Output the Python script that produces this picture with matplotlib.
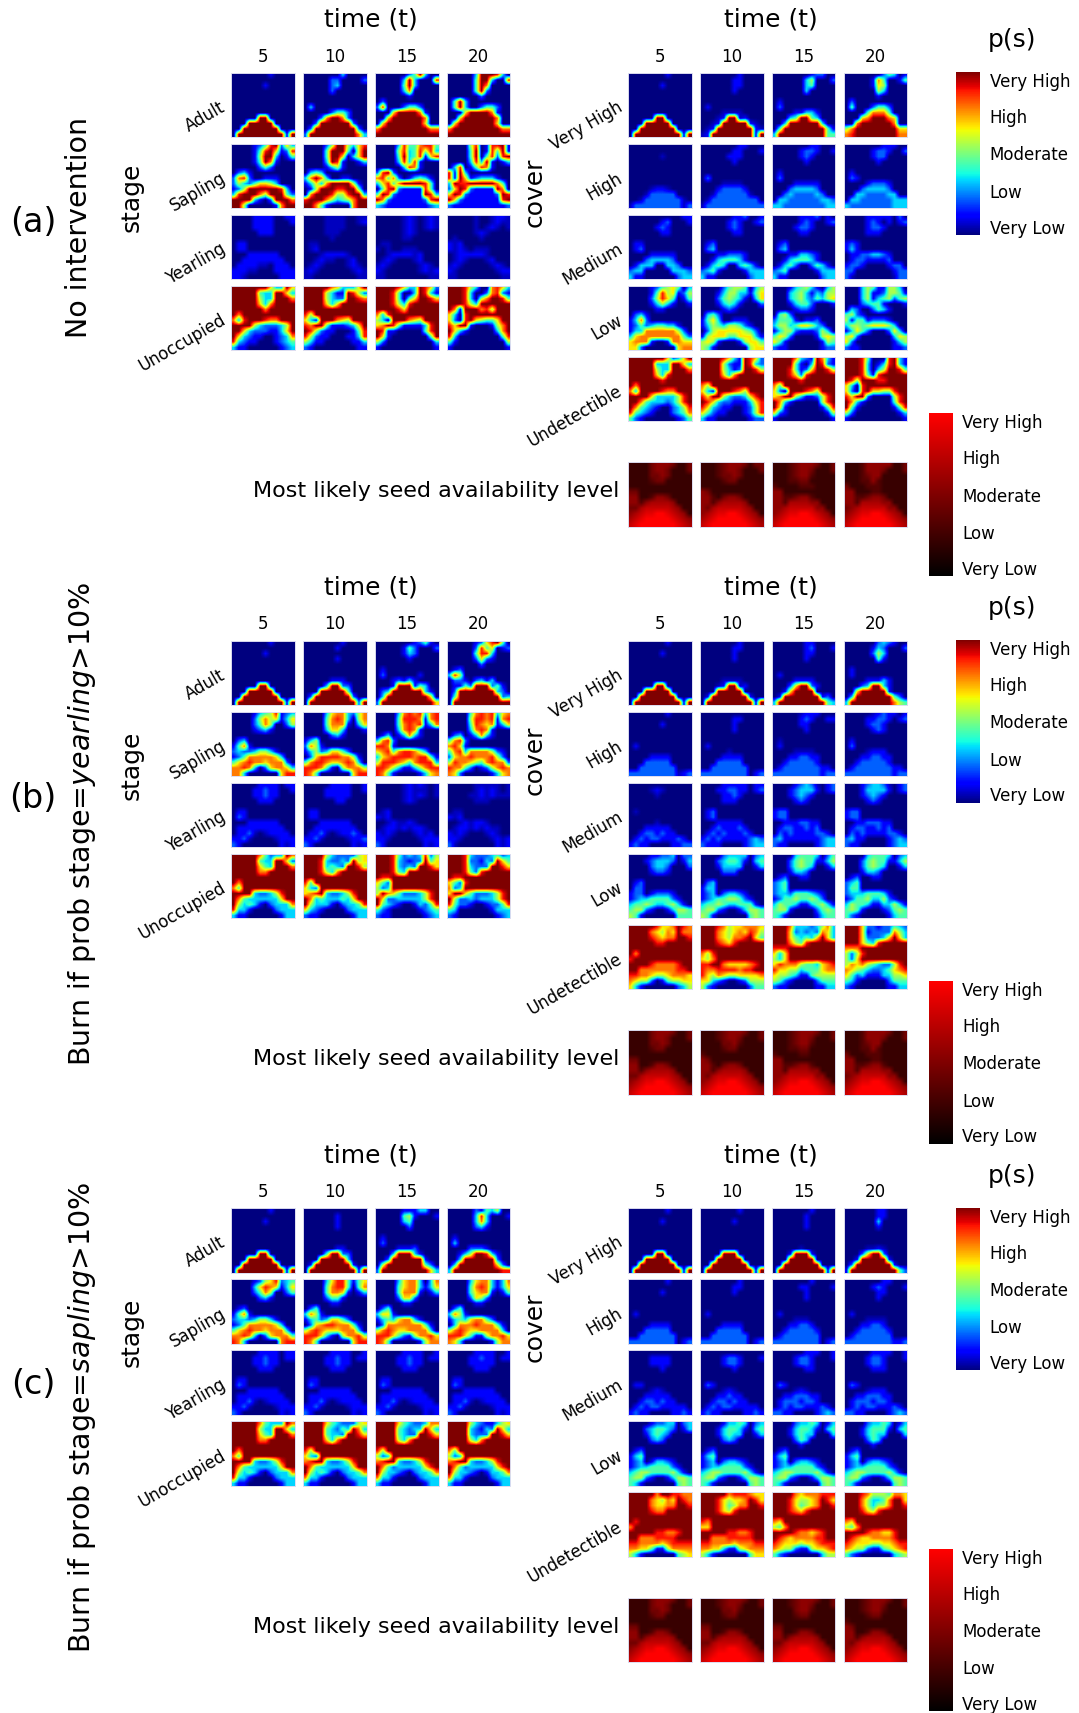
"""Grid of occupancy maps for three burn scenarios, read off the figure on a 12x12 grid.

Cells: 0-9 is the level in ninths, a-i are the half steps (a=0.5, b=1.5, ...).
One row of text holds the same map row for t=5, 10, 15, 20.
"""
import matplotlib
matplotlib.use("Agg")
import matplotlib.pyplot as plt
import numpy as np
from matplotlib.cm import ScalarMappable
from matplotlib.colors import LinearSegmentedColormap, Normalize

TIMES = [5, 10, 15, 20]
STAGES = ["Adult", "Sapling", "Yearling", "Unoccupied"]
COVERS = ["Very High", "High", "Medium", "Low", "Undetectible"]
LEVELS = ["Very Low", "Low", "Moderate", "High", "Very High"]
LEVEL_POS = [0.05, 0.27, 0.5, 0.73, 0.95]

# ---------------- (a) no intervention ----------------
A_ADULT = """
000000010000 000000030000 000000249300 000003999830
000000000000 000002200002 000003930008 000004993008
000000100000 000002300000 000004930000 000004970000
000000000000 000002000000 000003700000 000004920000
000000000000 000000000000 000000100000 000000200000
000000000000 000000000000 020000000000 049300000000
000000000000 030000000000 280002442000 049300244200
000000000000 000002442000 000699997100 000699997100
000009900000 000279972000 006999999700 006999999700
000999990000 002999999200 069999999600 069999999600
009999999000 029999999920 799999999977 799999999977
099999999919 299999999973 999999999999 999999999999
"""
A_SAPLING = """
000012489263 000025995368 000038447884 000058018891
000014896128 000049994069 000058348583 000049018491
000015993014 000049960369 000049348168 000049048289
000014971000 000039810013 000038381000 000038391013
000002420000 000013510000 000003871000 038014871000
023100000000 034300000000 289200000000 819300000000
278200111000 379730011000 784720134310 819612333100
253246653000 136379999510 368479999840 398899999740
125999999830 015999889940 048921111840 269821111970
389997599942 079998558993 498211111983 698211111298
999931029997 899975345799 972111111289 962111111189
995000001799 997410000799 321111111123 211111111112
"""
A_YEARLING = """
000011110011 0000aaaa00aa 00000a1a0a1a 00000a00a11a
000011110001 0000aaaa00a1 00000a1a0a1a 00000a00a1aa
000011110000 0000aaaa0000 00000a1a0a1a 00000a0a1a0a
000001110000 0000aaa00000 00000a1a0000 00000a1a0000
000000000000 00000a000000 00000aa00000 0a0000a00000
011000000000 0aa000000000 0aa000000000 1a1000000000
011000000000 0a1000000000 a0a00aaa0000 1a1a0aaa0000
000111111000 000a1111a000 00a1111a1000 0a11111a0000
001111111100 00a1aa00a100 0a1a000a1000 0a1a000a1000
01111aa01110 0a1a0000a1a0 a1a00000a1a0 a1a00000a1a0
111aa0001111 a1a000000a1a 1a000000a1a1 1a0000000a11
11a000000111 aa00000000aa aa00000000aa aa00000000aa
"""
A_UNOCCUPIED = """
999999963396 999997633369 999986339862 999853007863
999994339963 999953119852 999840039831 999830027821
999995339997 999953229987 999840469986 999830579984
999996379999 999963699999 999853899999 999853999999
999999799999 999999999999 999986999999 971999785999
979999999999 859999999999 738999999999 630899999999
738999877999 631999765999 530999765999 620896544699
999953222359 879941112369 679841111389 869910001579
996322211369 985211000148 981100000489 963100000379
963211001237 852110001138 961000000049 830000000048
832110001234 531100000113 520000000003 410000000005
311000000123 210000000011 100000000001 100000000001
"""
A_VHIGH = """
000000010000 000000010000 000000012200 000000024301
000000000000 000000110000 000000350002 000001740014
000000100000 000000110000 000000340000 000001650000
000000000000 000000100000 000000300000 000000530000
000000000000 000000000000 000000000000 000000100000
000000000000 000000000000 010000000000 020000000000
000000000000 010000000000 020000000000 040002442000
000000000000 0000aaaa0000 000011331000 000047774000
000009900000 000a199a1000 000349943000 000679997600
000999990000 00a1999991a0 003999999300 007999999700
009999999000 0a199999991a 049999999941 579999999966
099999999919 a19999999919 399999999944 789999999977
"""
A_HIGH = """
000000000000 000000011000 000000011000 000000011100
000000000000 000000110001 000001221001 000001221002
000000a00000 000001110000 000001210000 000001220000
000000000000 000000100000 000000100000 000000100000
000000000000 000000000000 000000000000 000000000000
000000000000 000000000000 010000000000 010000000000
000000000000 020000000000 020000000000 021000000000
000000000000 0000aaaa0000 000011111000 000012221000
0000a11a0000 000122221000 000233332000 000233332000
000a22222000 00a222222a00 002322223200 003322223300
00a2222222a0 0a2222222220 033222222332 033222222333
a222222222a2 a22222222222 332222222233 322222222333
"""
A_MEDIUM = """
000000000011 000000112001 000001112010 000011111020
000000120001 000001210012 000001210012 000012101012
000001210000 000001210000 000012210000 000012210000
000000110000 000000110000 000001100000 000011100000
000000000000 000000000000 000000000000 000000000000
011000000000 012000000000 012000000000 121000000000
012000000000 023000000000 023000000000 131000000000
000011111000 000112221000 000113321000 011223321000
000233332000 001344431000 001344431000 012211112000
013330033200 013430034310 013420024310 122100001220
233000003332 234100001333 234000001333 220000000122
311000000233 311000000233 311000000233 2a0000000a22
"""
A_LOW = """
000012456403 000024554035 000134531035 000354115530
000014856125 000135533146 000345313255 000351125541
000025864014 000245431036 000345324356 000351345245
000013531001 000134310002 000134420001 000234410001
000001100000 000012100000 000012210000 032002431000
023100000000 034200000000 045200000000 452100000000
137200000000 146300111000 244410112000 514412221000
124234433100 135435542100 355346653200 355456665300
133777777520 025666665420 135521112530 136420002630
367777777742 156664466631 465200001565 562000000365
677710017766 565100015664 641000000154 620000000135
662000000677 541000000566 211000000122 211000000112
"""
A_UNDET = """
999999962369 999986319862 999973219731 999840008931
999993339963 999952119832 999941039821 999830138931
999995339997 999953129985 999841269985 999830359984
999996389999 999963799999 999862899999 999841899999
999999899999 999999999999 999998999999 985999889999
979999999999 759999999999 749999999999 630899999999
739999877999 631999875999 620999875999 620896655899
999963333589 869953223689 679953112589 869920000589
997433323589 986322111368 973100000589 973100000489
974321002358 863211001258 961000000148 941000000148
843210002347 642110001258 621000000015 520000000013
421000000124 311000000122 100000000001 100000000001
"""
A_SEED = """
222245554224 222345554244 222345554224 222355555224
222245542224 222345542224 222345542224 222355542224
222244542222 222344542222 222345532222 222345522222
222234422222 222234422222 222334422222 222335322222
222222222222 222222222222 322223332222 422233322222
442222222222 542222222222 552222222222 552223322222
552235542222 553245542222 553345532222 553345542222
553566665222 553566665222 553666655222 553666655222
446777776522 546777776522 556777775522 456777775522
567889987652 567889987652 567889987652 567889987652
678999998765 678999998765 678999998765 678999998765
789999999876 789999999876 789999999876 789999999876
"""

# ---------------- (b) burn if yearling > 10% ----------------
B_ADULT = """
000000010000 000000010000 000000012410 000001268940
000000000000 000000100000 000001420002 000002846012
000000100000 000000000000 000001320000 000004883000
000000000000 000000100000 000000100000 000002621000
000000000000 000000000000 000000000000 000000200000
000000000000 000000000000 010000000000 012000000000
000000000000 000000000000 020000001000 385000000000
000000000000 000001110000 000121310000 022102313000
000009900000 000039922000 000199914300 011429992410
000999990000 000999994000 023999999310 029999999320
009999999000 029999999200 039999999960 049999999923
099999999919 099999999929 299999999996 099999999999
"""
B_SAPLING = """
000013458123 000036773257 000037878378 000047878367
000025756136 000047873057 000048887178 000058878178
000024750025 000047771036 000047878137 000048767136
000012310000 000036630001 000037871000 000037871000
000000000000 000002310000 013013731000 023013731000
023000000000 135000000000 378200000000 478200000000
147100000000 275100000000 887100000000 786100000000
232235531000 135236642000 678478875300 478377775210
124777776300 026888877510 367888878841 267787778520
467877677720 478876678730 588876478883 587765478772
778730267763 888741057775 887531135788 877420125787
773000000688 874000000688 874100001367 762000001367
"""
B_YEARLING = """
000001111011 000001111001 00000a1a1a0a 00000aaaaa0a
000011211001 000011111001 00000a1aaa0a 00000a1a1a0a
000011211000 000011111000 00000a1a1a0a 0000aa1a1aaa
000001110000 000000110000 00000a1a0000 00000aaa0000
000000000000 000000000000 000000000000 000000000000
011000000000 011000000000 0a1000000000 0aa000000000
021000000000 011000000000 1a1000000000 1a1000000000
000111111000 000111111000 00a1aa1a0000 00a1a11a0000
011111111100 001111111100 0a11a1a11a00 0a11a1a1aa00
0112a0a11110 0112a0a11210 1a1a000a1a10 1a1a000a1a00
112a0000a111 112a0000a112 11a00000a111 11a00000a1a1
2100000001a1 2100000001a1 2100000001a1 2a00000001a1
"""
B_UNOCCUPIED = """
999997423397 999953222256 999842323825 999832223423
999994339962 999832232956 999832122946 999822132964
999996439997 999834329985 999832329986 999832229986
999997799999 999853799999 999843999999 999842899999
999999999999 999999999999 988999999999 988999999999
979999999999 849999999999 642999999999 642899999999
749999999999 632999999999 523999999999 723999999999
999932235899 678932235899 597642223589 699642223589
974333333699 973433343699 962233333589 952232333589
953431023337 953331023348 943210013248 842210012248
833100002333 632100002333 421000001234 430000001333
311000000133 211000000133 211000000123 210000000123
"""
B_VHIGH = """
000000010000 000000010000 000000110000 000000232100
000000000000 000000110000 000000120001 000001320002
000000100000 000000100000 000000110000 000002530000
000000000000 000000100000 000000100000 000000410000
000000000000 000000000000 000000000000 000000000000
000000000000 000000000000 000000000000 010000000000
000000000000 000000000000 010000000000 010000000000
000000000000 0000aaaa0000 000011110000 000011131000
000009900000 000a199a1000 000269921000 000239931000
000999990000 000999990000 001699990000 006999991000
009999999000 019999999100 019999999120 039999999420
099999999919 099999999919 399999999943 399999999754
"""
B_HIGH = """
000000010000 000000000000 00000a111000 00000a121101
000000000000 000000110000 000001210011 000011221012
000000100000 000000100000 000001100000 000012210000
000000000000 000000100000 000000100000 000001210000
000000000000 000000000000 000000000000 000000000000
000000000000 000000000000 0a0000000000 010000000000
010000000000 010000000000 010000000000 020000000000
000000000000 00000a000000 0000aaaa0000 0000a1110000
000011110000 000011110000 000112211000 000112211000
000222220000 000222220000 001222221000 001222221000
002222222000 002222222000 012222222110 012222222110
222222222a12 222222222012 222222222122 222222222122
"""
B_MEDIUM = """
000000000000 000011111011 00001232a012 00012332a012
0000a1a00000 000112211012 000123331012 000133331012
00000a000000 000011210000 000123210000 000123210000
000000000000 000011100000 000012100000 000012100000
000000000000 000000000000 000000000000 000000000000
0a0000000000 012000000000 122000000000 122000000000
000000000000 012000000000 122000000000 122000000000
00000a000000 000111110000 001112211000 001122211000
000111110000 001211121000 012211212000 012211212000
001221211000 012121112100 021211112210 021211112210
012122111210 121211111232 231111111233 231100001232
121100001122 211100001233 211000001233 211000001233
"""
B_LOW = """
000011223022 000023333023 000034443024 000034443023
000123332013 000234431034 000245441135 000245441135
000023320002 000133330013 000245430013 000245430013
000012210000 000022200000 000133200000 000133200000
000000000000 000000000000 012001100000 012001100000
012000000000 023000000000 234000000000 234000000000
022000000000 133000000000 234000000000 244000000000
122012221000 123023321000 233244432100 233344431000
123344442100 123445542100 124454454200 124453352100
344543345310 344543344410 354431134531 354431133531
455210013554 455210013554 455100002454 454100012454
541000000444 541000000454 431000001344 421000001344
"""
B_UNDET = """
999998667987 999875667776 999733323573 999622122432
999976576977 999765676875 999623232763 999612222753
999987677998 999765778964 999643436963 999622236963
999998899999 999876899999 999754899999 999643899999
999999999999 999999999999 888999999999 777999999999
979999999999 758999999999 636999999999 525899999999
899999999999 657999999999 536999999999 526999999999
999987777899 889976666789 687775443678 576754322589
997777777889 877888878899 866553444677 765432234678
887765567776 865765566667 655431145555 642311133556
765520145566 663210012555 542100002444 431000002444
631000000235 521000000244 211000001133 210000001133
"""
B_SEED = """
222245554224 222345554224 222345554224 222355554224
222245542224 222345542224 222345542224 222355542224
222244542222 222244532222 222345532222 222345522222
222234422222 222234422222 222334422222 222335322222
222222222222 322222222222 322223322222 422233322222
442222222222 542222222222 552222222222 552223322222
552235542222 553245542222 553345532222 553345532222
553566665222 553566665222 553666655222 553666655222
446777776522 546777776522 556777775522 456777775522
567889987652 567889987652 567889987652 567889987652
678999998765 678999998765 678999998765 678999998765
789999999876 789999999876 789999999876 789999999876
"""

# ---------------- (c) burn if sapling > 10% ----------------
C_ADULT = """
000000010000 000000000000 000001113300 000002143500
000000000000 000000100000 000004510001 000003830001
000000100000 000000100000 000003400000 000003730000
000000000000 000000100000 000000200000 000002310000
000000000000 000000000000 000000000000 000000000000
000000000000 000000000000 010000000000 010000000000
000000000000 000000000000 020000000000 030000000000
000000000000 000000110000 000011120000 000022210000
000009900000 000049922000 000399931000 001359983100
000999990000 000999993000 002999999100 003999999200
009999999000 019999999100 059999999420 039999999620
099999999919 099999999919 299999999963 399999999988
"""
C_SAPLING = """
000012568234 000036884146 000036773037 000036773137
000036876136 000047884047 000046773136 000047873136
000024750024 000047761013 000047771013 000046771014
000002310000 000024410000 000026620000 000026520000
000000000000 000001100000 000001100000 000001100000
012000000000 024000000000 024000000000 024000000000
147100000000 375100000000 366100000000 375100000000
233235531000 134236642000 134367731000 134367742000
124777776300 026788777410 027777777410 037778777410
467877677730 578766677730 578766777730 578766777730
778730267774 888631057785 888642157786 888641157786
873000000788 874000000688 874000001577 763000001577
"""
C_YEARLING = """
000001111011 000001111001 000001111001 000001111001
000011211011 000011211011 000011211011 000011211011
000011211000 000011211000 000011211000 000011111000
000001110000 000001110000 000001110000 000001110000
000000000000 000000000000 000000000000 000000000000
011000000000 011000000000 011000000000 011000000000
021000000000 021000000000 021000000000 021000000000
000111111000 000111111000 000111111000 000111111000
011111111100 011111111100 011111111100 011111111100
0112a0a11110 0112a0a11110 0112a0a11110 0112a0a11110
112a0000a111 112a0000a111 112a0000a111 112a0000a111
2100000001a1 2100000001a1 2100000001a1 2100000001a1
"""
C_UNOCCUPIED = """
999997433397 999964322256 999964322377 999953211356
999995339963 999943243973 999943233963 999932132963
999996439997 999943329986 999943229986 999932229986
999997799999 999963799999 999953799999 999953799999
999999999999 999999999999 999999999999 999999999999
979999999999 859999999999 859999999999 749999999999
749999999999 632999999999 523999999999 523999999999
999932235899 789932235899 789932235899 789932235899
974333333699 974333333699 974233333689 974233333689
953431023337 953431023347 953321023347 953321013347
833100002333 733100002333 733100002333 733100002333
311000000133 311000000133 311000000133 311000000133
"""
C_VHIGH = """
000000010000 000000010000 000000010000 000000110000
000000000000 000000000000 000000100000 000000110000
000000100000 000000100000 000000100000 000000300000
000000000000 000000000000 000000100000 000000100000
000000000000 000000000000 000000000000 000000000000
000000000000 000000000000 000000000000 000000000000
000000000000 000000000000 000000000000 000000000000
000000000000 000000000000 00000a000000 0000aa1a0000
000009900000 000099900000 000199910000 000269920000
000999990000 000999990000 000999990000 001999991000
009999999000 009999999000 009999999000 029999999100
099999999919 099999999919 099999999919 199999999942
"""
C_HIGH = """
000000010000 000000010000 000000010000 000000011000
000000000000 000000110000 000001100001 000001210001
000000100000 000000100000 000000100000 000000110000
000000000000 000000000000 000000100000 000000100000
000000000000 000000000000 000000000000 000000000000
000000000000 000000000000 000000000000 000000000000
010000000000 010000000000 010000000000 010000000000
000000000000 000000000000 0000aaa00000 0000aaaa0000
000011110000 000011110000 000112210000 000112210000
000222220000 000222220000 001222221000 001222221000
002222222000 002222222000 012222222000 012222222000
222222222012 222222222012 222222222012 222222222112
"""
C_MEDIUM = """
000000000000 000000000000 000000111001 000001111001
000011110000 000012210001 000012210001 000012210001
000011110000 000012210000 000012210000 000012210000
000000100000 000000100000 000000110000 000001110000
000000000000 000000000000 000000000000 000000000000
000000000000 000000000000 000000000000 000000000000
011000000000 021000000000 021000000000 021000000000
0000a1a00000 0000a1a00000 0000a1a00000 0000a1110000
000111110000 000112110000 001122211000 001122211000
001221211000 001221211000 012221221000 012221221000
012122111110 012122111110 012122111210 012122111210
121100001121 121100001121 221100001232 221100001232
"""
C_LOW = """
000012233023 000013343023 000023343013 000023343013
000234432013 000134431034 000134431034 000134441034
000134320000 000134330013 000134330003 000134330003
000023200000 000023200000 000024300000 000024300000
000000000000 000000000000 000001000000 000001000000
012000000000 012000000000 012000000000 012000000000
134000000000 134000000000 134000000000 134000000000
123013321000 123023321000 123023321000 123023321000
123344442100 123344442100 123344442100 123344442100
345544445310 345544445310 345544445310 345544445310
455210013554 455210013554 455210013554 455210013554
431000000454 431000000454 431000000454 431000000454
"""
C_UNDET = """
999997998877 999997888766 999976777888 999875554776
999976576987 999865667986 999865567986 999753347996
999976677998 999864577998 999864567998 999753557998
999987799999 999865899999 999876899999 999865899999
999999999999 999999999999 999999999999 999999999999
989999999999 879999999999 769999999999 769999999999
799999999999 669999999999 547999999999 547999999999
999998877899 999998877899 999987767899 999987766899
997778888999 997778888899 987677778899 987667777899
887777678888 887777677788 876665667888 876665566788
776641157777 776631156777 765521156678 765521145678
531000000456 531000000466 421000000355 421000000345
"""
C_SEED = """
222245554224 222345554224 222345554224 222345554224
222245542224 222345542224 222345542224 222345542224
222244542222 222244532222 222245532222 222345532222
222234422222 222234422222 222234422222 222234422222
222222222222 222222222222 222222222222 322222222222
442222222222 442222222222 442222222222 542222222222
552235542222 552235542222 552235542222 552235542222
553566665222 553566665222 553566665222 553566665222
446777776522 446777776522 446777776522 546777776522
567889987652 567889987652 567889987652 567889987652
678999998765 678999998765 678999998765 678999998765
789999999876 789999999876 789999999876 789999999876
"""

GROUPS = [
    ([A_ADULT, A_SAPLING, A_YEARLING, A_UNOCCUPIED],
     [A_VHIGH, A_HIGH, A_MEDIUM, A_LOW, A_UNDET], A_SEED),
    ([B_ADULT, B_SAPLING, B_YEARLING, B_UNOCCUPIED],
     [B_VHIGH, B_HIGH, B_MEDIUM, B_LOW, B_UNDET], B_SEED),
    ([C_ADULT, C_SAPLING, C_YEARLING, C_UNOCCUPIED],
     [C_VHIGH, C_HIGH, C_MEDIUM, C_LOW, C_UNDET], C_SEED),
]
GROUP_TAGS = ["(a)", "(b)", "(c)"]
GROUP_TITLES = ["No intervention",
                r"Burn if prob stage=$\mathit{yearling}$>10%",
                r"Burn if prob stage=$\mathit{sapling}$>10%"]

W, H = 1079, 1713
OFFSETS = [0, 567.9, 1135.6]
LEFT_X = [231.4, 303.4, 375.2, 447.1]
RIGHT_X = [628.3, 700.2, 772.1, 844.0]
PANEL_W, PANEL_H = 63.3, 64.6
ROW_Y = [72.7, 143.7, 214.8, 285.8, 356.8]
SEED_Y = 462.2
TAG_Y = [223, 799, 1385]
TITLE_Y = [227, 824, 1417]
TITLE_X = [79, 82, 82]

BLACK_RED = LinearSegmentedColormap.from_list("black_red", ["#000000", "#ff0000"])
EDGE = "#dcdcf0"


def parse_block(block):
    """Splits one text block into its four 12x12 maps, values 0..1."""
    rows = [line.split() for line in block.strip().splitlines()]
    maps = []
    for t in range(4):
        m = []
        for row in rows:
            cells = row[t][:12].ljust(12, row[t][-1])
            m.append([int(c) / 9 if c.isdigit() else (ord(c) - 96.5) / 9 for c in cells])
        maps.append(np.array(m))
    return maps


def px_axes(fig, x0, y0, w, h):
    return fig.add_axes([x0 / W, 1 - (y0 + h) / H, w / W, h / H])


def draw_map(ax, values, cmap):
    ax.imshow(values, cmap=cmap, vmin=0, vmax=1, aspect="auto", interpolation="bilinear")
    ax.set_xticks([])
    ax.set_yticks([])
    for s in ax.spines.values():
        s.set_color(EDGE)
        s.set_linewidth(0.7)


def draw_block(fig, blocks, names, xs, off):
    for r, block in enumerate(blocks):
        maps = parse_block(block)
        for c, x in enumerate(xs):
            ax = px_axes(fig, x, ROW_Y[r] + off, PANEL_W, PANEL_H)
            draw_map(ax, maps[c], "jet")
            if r == 0:
                ax.set_title(str(TIMES[c]), fontsize=12, pad=8)
            if c == 0:
                ax.set_yticks([5.5])
                ax.set_yticklabels([names[r]], rotation=30, fontsize=12)
                ax.tick_params(axis="y", length=0, pad=2)


def colorbar(fig, cmap, x0, y0, w, h, pad):
    cax = px_axes(fig, x0, y0, w, h)
    cb = fig.colorbar(ScalarMappable(Normalize(0, 1), cmap), cax=cax)
    cb.set_ticks(LEVEL_POS)
    cb.set_ticklabels(LEVELS)
    cb.ax.tick_params(length=0, labelsize=12, pad=pad)
    cb.outline.set_visible(False)


def put(fig, x, y, s, **kw):
    fig.text(x / W, 1 - y / H, s, ha=kw.pop("ha", "center"), va="center", **kw)


fig = plt.figure(figsize=(W / 100, H / 100), dpi=100)

for g, (stage_blocks, cover_blocks, seed_block) in enumerate(GROUPS):
    off = OFFSETS[g]
    draw_block(fig, stage_blocks, STAGES, LEFT_X, off)
    draw_block(fig, cover_blocks, COVERS, RIGHT_X, off)

    seed_maps = parse_block(seed_block)
    for c, x in enumerate(RIGHT_X):
        draw_map(px_axes(fig, x, SEED_Y + off, PANEL_W, PANEL_H), seed_maps[c], BLACK_RED)

    colorbar(fig, "jet", 955.6, 72 + off, 24.2, 162.7, 7)
    colorbar(fig, BLACK_RED, 929, 413.3 + off, 24, 162.4, 6.5)

    put(fig, 371, 20 + off, "time (t)", fontsize=18)
    put(fig, 771, 20 + off, "time (t)", fontsize=18)
    put(fig, 1012, 40 + off, "p(s)", fontsize=18)
    put(fig, 132, 197 + off, "stage", fontsize=18, rotation=90)
    put(fig, 535, 210 + off - 18, "cover", fontsize=18, rotation=90)
    put(fig, 619, 491 + off, "Most likely seed availability level", fontsize=16, ha="right")
    put(fig, 33, TAG_Y[g], GROUP_TAGS[g], fontsize=24)
    put(fig, TITLE_X[g], TITLE_Y[g], GROUP_TITLES[g], fontsize=20.5, rotation=90)

fig.savefig("out.png", dpi=100)
plt.close(fig)
